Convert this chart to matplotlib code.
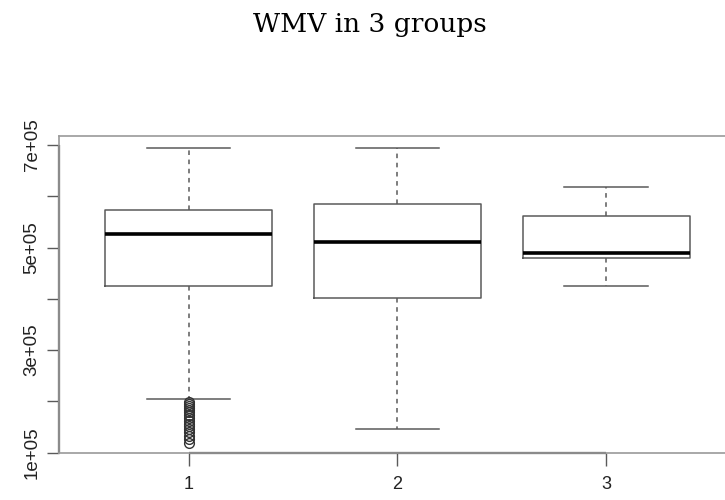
#!/usr/bin/env python3
import matplotlib

matplotlib.use("Agg")
import matplotlib.pyplot as plt

groups = ["1", "2", "3"]
whisker_low = [2.04e5, 1.46e5, 4.25e5]
q1 = [4.26e5, 4.02e5, 4.80e5]
median = [5.27e5, 5.10e5, 4.89e5]
q3 = [5.73e5, 5.84e5, 5.61e5]
whisker_high = [6.94e5, 6.94e5, 6.19e5]
outliers_group1 = [
    1.99e5, 1.96e5, 1.92e5, 1.88e5, 1.84e5, 1.79e5, 1.74e5, 1.68e5,
    1.62e5, 1.57e5, 1.52e5, 1.46e5, 1.40e5, 1.33e5, 1.26e5, 1.20e5,
]
outliers = [outliers_group1, [], []]

y_ticks = [1e5, 2e5, 3e5, 4e5, 5e5, 6e5, 7e5]
y_tick_labels = ["1e+05", "", "3e+05", "", "5e+05", "", "7e+05"]

stats = [
    {
        "label": groups[i],
        "whislo": whisker_low[i],
        "q1": q1[i],
        "med": median[i],
        "q3": q3[i],
        "whishi": whisker_high[i],
        "fliers": outliers[i],
    }
    for i in range(len(groups))
]

line_grey = "#5a5a5a"
figure = plt.figure(figsize=(7.25, 5.0), dpi=100)
axis = figure.add_axes([0.0818, 0.0934, 0.9327, 0.6346])

axis.bxp(
    stats,
    positions=[1, 2, 3],
    widths=0.8,
    boxprops=dict(color=line_grey, linewidth=1.1),
    whiskerprops=dict(color=line_grey, linewidth=1.1, linestyle=(0, (3, 3))),
    capprops=dict(color=line_grey, linewidth=1.1),
    medianprops=dict(color="black", linewidth=2.6),
    flierprops=dict(
        marker="o",
        markersize=7,
        markerfacecolor="none",
        markeredgecolor="#333333",
        markeredgewidth=1.0,
    ),
    showfliers=True,
)

axis.set_xlim(0.38, 3.62)
axis.set_ylim(0.99e5, 7.175e5)
axis.set_xticks([1, 2, 3])
axis.set_xticklabels(groups, fontsize=13, family="Liberation Sans")
axis.set_yticks(y_ticks)
axis.set_yticklabels(
    y_tick_labels,
    fontsize=13.5,
    family="Liberation Sans",
    rotation=90,
    va="center",
)
axis.tick_params(
    axis="both",
    direction="out",
    length=9,
    width=1.0,
    color=line_grey,
    labelcolor="#222222",
)
axis.tick_params(axis="x", pad=7)
axis.tick_params(axis="y", pad=4.5)
for spine in axis.spines.values():
    spine.set_color("#9a9a9a")
    spine.set_linewidth(1.2)

# R draws the axis lines from the first to the last tick on top of the box
axis.hlines(0.99e5, 1, 3, colors="#444444", linewidth=1.6, clip_on=False)
axis.vlines(0.38, 1e5, 7e5, colors="#444444", linewidth=1.6, clip_on=False)

figure.text(
    0.510,
    0.936,
    "WMV in 3 groups",
    ha="center",
    va="baseline",
    fontsize=19,
    family="DejaVu Serif",
    color="black",
)

figure.savefig("out.png", dpi=100)
